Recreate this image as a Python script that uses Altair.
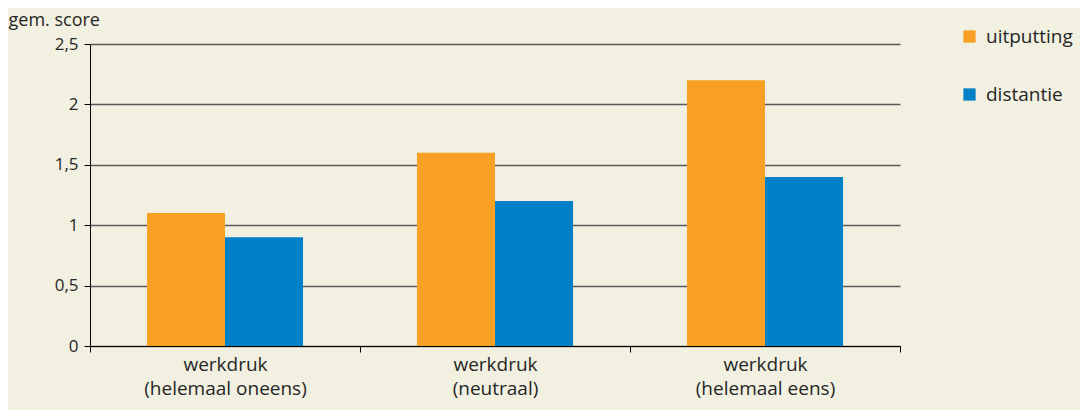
import altair as alt
import pandas as pd

categories = ["werkdruk|(helemaal oneens)", "werkdruk|(neutraal)", "werkdruk|(helemaal eens)"]
series = ["uitputting", "distantie"]
uitputting = [1.1, 1.6, 2.2]
distantie = [0.9, 1.2, 1.4]

rows = []
for c, u, d in zip(categories, uitputting, distantie):
    rows.append({"cat": c, "serie": "uitputting", "val": u})
    rows.append({"cat": c, "serie": "distantie", "val": d})
df = pd.DataFrame(rows)

FONT = "Open Sans"
TXT = "#262626"

chart = alt.Chart(df).mark_bar().encode(
    x=alt.X("cat:N", sort=categories,
            scale=alt.Scale(paddingInner=0, paddingOuter=0),
            axis=alt.Axis(title=None, labelAngle=0, labelExpr="split(datum.label, '|')",
                          labelFontSize=19, labelFont=FONT, labelColor=TXT,
                          labelLineHeight=24, labelPadding=3,
                          tickBand="extent", tickSize=6, tickColor="#000000",
                          domainColor="#000000", grid=False)),
    xOffset=alt.XOffset("serie:N", sort=series,
                        scale=alt.Scale(paddingOuter=0.73, paddingInner=0)),
    y=alt.Y("val:Q", scale=alt.Scale(domain=[0, 2.5]),
            axis=alt.Axis(values=[0, 0.5, 1, 1.5, 2, 2.5],
                          labelExpr="replace(format(datum.value, '.1~f'), '.', ',')",
                          labelFontSize=17, labelFont=FONT, labelColor=TXT, labelPadding=6,
                          tickSize=6, tickColor="#000000", domainColor="#000000",
                          gridColor="#5a5a5a", gridWidth=1.3,
                          title="gem. score", titleAngle=0, titleAlign="left",
                          titleBaseline="middle", titleX=-82, titleY=-24,
                          titleFont=FONT, titleFontSize=18, titleFontWeight="normal",
                          titleColor=TXT)),
    color=alt.Color("serie:N", sort=series,
                    scale=alt.Scale(domain=series, range=["#F7A024", "#0080C6"]),
                    legend=alt.Legend(title=None, orient="none", legendX=870, legendY=-17,
                                      symbolType="square", symbolSize=150,
                                      symbolStrokeWidth=0, labelFont=FONT,
                                      labelFontSize=19, labelColor=TXT,
                                      rowPadding=38, labelOffset=7)),
).properties(
    width=810, height=302,
    autosize=alt.AutoSizeParams(type="none"),
    padding={"left": 82, "top": 36, "right": 180, "bottom": 64},
    background="#F2F0E1",
).configure_view(stroke=None)

chart.save("out.html", embed_options={"renderer": "svg", "actions": False})
